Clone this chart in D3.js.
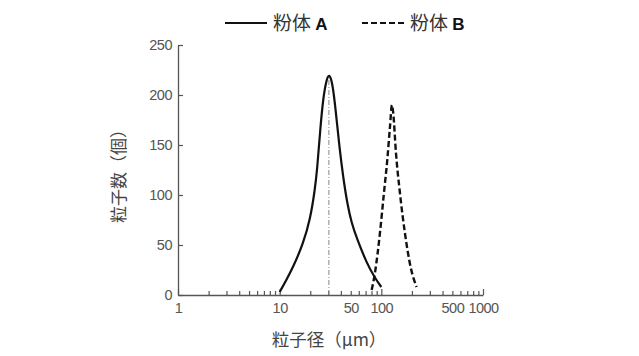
<!DOCTYPE html>
<html><head><meta charset="utf-8">
<script src="https://cdn.jsdelivr.net/npm/d3@7"></script>
<style>
body{margin:0;background:#fff;}
svg{display:block;}
text{font-family:"Liberation Sans","Noto Sans CJK JP",sans-serif;}
.cjk{font-family:"Noto Sans CJK JP","Liberation Sans",sans-serif;}
</style></head><body>
<svg id="c" width="639" height="356"></svg>
<script>
// Data
const seriesNames = ["粉体 A", "粉体 B"];
const sizeA  = [10, 11.5, 13.6, 17.1, 19.9, 22.2, 23.4, 24.9, 26.8, 29.0, 30.5, 32.5, 34.2, 36.3, 38.5, 42.2, 46.5, 51.0, 57.2, 71.7, 86.5, 100];
const countA = [3, 14, 28, 52, 75, 105, 126, 162, 198, 216, 221, 215, 200, 176, 150, 117, 90, 72, 57, 32, 17, 8];
const sizeB  = [80.3, 86.5, 96.9, 106.1, 114.4, 121.6, 127.2, 130.9, 139.3, 152.4, 170.6, 194.1, 222.4];
const countB = [5, 22, 62, 102, 135, 168, 190, 182, 142, 102, 62, 28, 8];
const peakA = 30.5;
const xTickLabels = [1, 10, 50, 100, 500, 1000];
const yTicks = [0, 50, 100, 150, 200, 250];
const xLabel = "粒子径（μm）";
const yLabel = "粒子数（個）";

const svg = d3.select("#c");
const x = d3.scaleLog().domain([1, 1000]).range([178, 483]);
const y = d3.scaleLinear().domain([0, 250]).range([295, 45]);

const xTicksAll = [];
for (let d = 1; d <= 100; d *= 10) for (let k = 1; k < 10; k++) xTicksAll.push(d * k);
xTicksAll.push(1000);

const gx = svg.append("g").attr("transform", "translate(0,295)")
  .call(d3.axisBottom(x).tickValues(xTicksAll).tickSizeInner(-4).tickSizeOuter(0).tickPadding(8)
    .tickFormat(d => xTickLabels.includes(d) ? String(d) : ""));
gx.selectAll("line").filter(d => [1,10,100,1000].includes(d)).attr("y2", -6);

const gy = svg.append("g").attr("transform", "translate(178,0)")
  .call(d3.axisLeft(y).tickValues(yTicks).tickSizeInner(-5).tickSizeOuter(0).tickPadding(6));

[gx, gy].forEach(g => {
  g.select(".domain").attr("stroke", "#555").attr("stroke-width", 1.3);
  g.selectAll(".tick line").attr("stroke", "#555").attr("stroke-width", 1.2);
  g.selectAll(".tick text").attr("fill", "#555").style("font-size", "14.5px").style("letter-spacing", "-0.5px");
});

// peak reference line
svg.append("line")
  .attr("x1", x(peakA)).attr("x2", x(peakA))
  .attr("y1", y(0)).attr("y2", y(217))
  .attr("stroke", "#888").attr("stroke-width", 1)
  .attr("stroke-dasharray", "5,2,1,2");

const lineA = d3.line().x(d => x(d[0])).y(d => y(d[1])).curve(d3.curveBasis);
const lineB = d3.line().x(d => x(d[0])).y(d => y(d[1])).curve(d3.curveMonotoneX);

svg.append("path").datum(d3.zip(sizeA, countA))
  .attr("d", lineA).attr("fill", "none").attr("stroke", "#111").attr("stroke-width", 2.2);

svg.append("path").datum(d3.zip(sizeB, countB))
  .attr("d", lineB).attr("fill", "none").attr("stroke", "#111").attr("stroke-width", 2.4)
  .attr("stroke-dasharray", "6,3");

// legend
const leg = [{x1: 225, x2: 267, tx: 273, dash: null}, {x1: 362, x2: 405, tx: 410, dash: "6,3"}];
leg.forEach((l, i) => {
  svg.append("line").attr("x1", l.x1).attr("x2", l.x2).attr("y1", 23).attr("y2", 23)
    .attr("stroke", "#111").attr("stroke-width", 2).attr("stroke-dasharray", l.dash);
  const parts = seriesNames[i].split(" ");
  const t = svg.append("text").attr("x", l.tx).attr("y", 30).attr("fill", "#333");
  t.append("tspan").attr("class", "cjk").style("font-size", "19px").text(parts[0] + " ");
  t.append("tspan").attr("font-weight", "bold").attr("fill", "#111").style("font-size", "17px").text(parts[1]);
});

// axis titles
svg.append("text").attr("class", "cjk").attr("x", 329).attr("y", 346)
  .attr("text-anchor", "middle").attr("fill", "#444").style("font-size", "17.5px").text(xLabel);
svg.append("text").attr("class", "cjk")
  .attr("transform", "translate(125,172) rotate(-90)")
  .attr("text-anchor", "middle").attr("fill", "#444").style("font-size", "17px").text(yLabel);
</script>
</body></html>
